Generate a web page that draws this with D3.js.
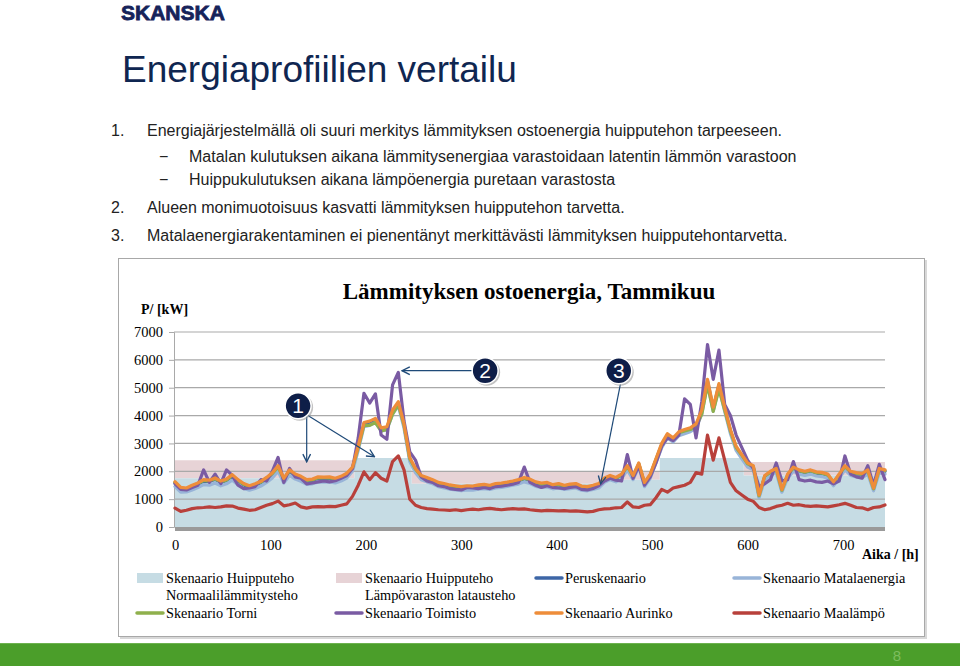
<!DOCTYPE html>
<html><head><meta charset="utf-8">
<script src="https://cdn.jsdelivr.net/npm/d3@7"></script>
<style>body{margin:0;background:#fff}svg{display:block}</style>
</head><body>
<svg id="c" width="960" height="666"></svg>
<script>
// ---------- data ----------
const hours = [0,6,12,18,24,30,36,42,48,54,60,66,72,78,84,90,96,102,108,114,120,126,132,138,144,150,156,162,168,174,
180,186,192,198,204,210,216,222,228,234,240,246,252,258,264,270,276,282,288,294,300,306,312,318,324,330,336,342,348,354,
360,366,372,378,384,390,396,402,408,414,420,426,432,438,444,450,456,462,468,474,480,486,492,498,504,510,516,522,528,534,
540,546,552,558,564,570,576,582,588,594,600,606,612,618,624,630,636,642,648,654,660,666,672,678,684,690,696,702,708,714,
720,726,732,738,744];

const peruskenaario = [1580,1370,1350,1450,1530,1650,1630,1710,1600,1670,
1830,1650,1510,1430,1500,1590,1730,1900,2140,1700,
2000,1850,1770,1650,1670,1750,1740,1750,1700,1770,
1880,2100,2850,3700,3720,3820,3500,3540,4120,4430,
3650,2450,2050,1800,1730,1650,1550,1510,1460,1430,
1400,1430,1420,1460,1480,1450,1510,1530,1560,1600,
1650,1730,1670,1570,1530,1550,1470,1510,1450,1490,
1510,1420,1400,1450,1510,1710,1800,1730,1850,2150,
1800,2250,1550,1850,2400,2950,3300,3150,3370,3450,
3500,3650,4150,5250,4250,5100,4250,3450,2850,2550,
2250,2150,1100,1800,1950,2050,1300,1850,2100,2000,
1950,2000,1930,1910,1850,1570,1850,2150,1950,1900,
1870,2000,1350,2050,2000];

const matalaenergia = [1450,1250,1260,1330,1420,1520,1500,1580,1480,1550,
1680,1520,1380,1320,1380,1470,1600,1760,2000,1580,
1850,1720,1640,1530,1550,1620,1610,1620,1580,1650,
1760,2000,2750,3600,3650,3750,3450,3480,4050,4350,
3550,2350,1950,1700,1620,1550,1450,1400,1360,1330,
1300,1330,1320,1360,1380,1350,1400,1420,1460,1500,
1540,1620,1560,1460,1420,1440,1370,1400,1350,1380,
1400,1320,1300,1350,1400,1600,1700,1620,1740,2050,
1700,2150,1450,1750,2300,2850,3200,3050,3280,3350,
3420,3550,4050,5150,4150,5000,4150,3350,2750,2450,
2150,2050,1050,1700,1850,1950,1250,1750,2000,1900,
1850,1900,1830,1810,1750,1480,1750,2050,1850,1800,
1770,1900,1300,1950,1900];

const torni = [1600,1390,1370,1470,1550,1670,1650,1730,1620,1690,
1850,1670,1530,1450,1520,1610,1750,1920,2150,1720,
2010,1870,1790,1670,1690,1770,1760,1770,1720,1790,
1900,2120,2850,3650,3650,3750,3450,3500,4050,4400,
3650,2450,2070,1820,1750,1670,1570,1530,1480,1450,
1420,1450,1440,1480,1500,1470,1530,1550,1580,1620,
1670,1750,1690,1590,1550,1570,1490,1530,1470,1510,
1530,1440,1420,1470,1530,1730,1820,1750,1870,2170,
1820,2270,1570,1870,2420,2950,3300,3150,3380,3450,
3500,3600,4050,5100,4150,4950,4200,3450,2850,2570,
2270,2170,1120,1820,1970,2070,1320,1870,2120,2020,
1970,2020,1950,1930,1870,1590,1870,2170,1970,1920,
1890,2020,1370,2070,2020];

const toimisto = [1550,1350,1330,1420,1500,2050,1600,1900,1560,2050,
1850,1500,1380,1400,1450,1700,1650,2000,2500,1600,
2100,1800,1750,1550,1580,1620,1650,1620,1660,1750,
1850,2100,3200,4800,4450,4780,3300,3150,5100,5550,
3800,2700,2400,1800,1650,1600,1480,1450,1380,1350,
1330,1420,1400,1380,1420,1380,1450,1470,1500,1540,
1600,2150,1600,1500,1420,1480,1420,1400,1380,1420,
1450,1350,1330,1380,1480,1650,1750,1680,1650,2600,
1750,2200,1500,1800,2300,2900,3200,3100,3300,4600,
4400,3200,4500,6550,5300,6350,4400,4000,3300,2850,
2400,2100,1450,1550,1700,2300,1650,1700,2350,1700,
1650,1680,1620,1600,1650,1550,1650,2550,1900,1800,
1750,2200,1500,2250,1700];

const aurinko = [1630,1420,1400,1500,1580,1700,1680,1760,1650,1720,
1880,1700,1560,1480,1550,1640,1780,1950,2200,1750,
2050,1900,1820,1700,1720,1800,1790,1800,1750,1820,
1930,2150,2900,3750,3800,3900,3560,3600,4200,4500,
3700,2500,2100,1850,1780,1700,1600,1560,1510,1480,
1450,1480,1470,1510,1530,1500,1560,1580,1610,1650,
1700,1780,1720,1620,1580,1600,1520,1560,1500,1540,
1560,1470,1450,1500,1560,1760,1850,1780,1900,2200,
1850,2300,1600,1900,2450,3000,3350,3200,3420,3500,
3560,3700,4200,5300,4300,5150,4300,3500,2900,2600,
2300,2200,1150,1850,2000,2100,1350,1900,2150,2050,
2000,2050,1980,1960,1900,1620,1900,2200,2000,1950,
1920,2050,1400,2100,2050];

const maalampo = [680,560,600,660,690,700,720,700,720,760,
750,680,640,600,620,700,780,840,930,760,
800,860,720,680,720,730,720,740,730,780,
830,1100,1500,1980,1700,1950,1750,1650,2350,2550,
2050,1000,780,700,660,640,620,610,600,620,
590,620,640,620,650,670,640,620,640,660,
640,650,620,600,580,600,590,580,590,570,
580,560,540,560,620,650,660,690,700,900,
720,700,780,800,1050,1350,1250,1400,1450,1500,
1600,1950,1900,3300,2400,3200,2400,1600,1300,1150,
1000,920,700,620,660,740,780,850,780,800,
760,740,760,740,720,760,800,850,780,700,
690,620,700,720,790];

// step areas (peak-power scenario)
const stepHours = [0,188,248,450,508,596,744];
const huippuNormaali = [1750,2480,1550,1700,2480,1850,1850];
const huippuLataus   = [2400,2480,1980,2000,2480,2330,2330];

const yTicks = [0,1000,2000,3000,4000,5000,6000,7000];
const xTicks = [0,100,200,300,400,500,600,700];

const bullets = [
  ["1.", "Energiajärjestelmällä oli suuri merkitys lämmityksen ostoenergia huipputehon tarpeeseen."],
  ["−", "Matalan kulutuksen aikana lämmitysenergiaa varastoidaan latentin lämmön varastoon"],
  ["−", "Huippukulutuksen aikana lämpöenergia puretaan varastosta"],
  ["2.", "Alueen monimuotoisuus kasvatti lämmityksen huipputehon tarvetta."],
  ["3.", "Matalaenergiarakentaminen ei pienentänyt merkittävästi lämmityksen huipputehontarvetta."]
];

const markers = [{n:"1",h:129,v:4350},{n:"2",h:325,v:5610},{n:"3",h:465,v:5610}];
const arrows = [
  {h1:138,v1:4030,h2:138,v2:2340},
  {h1:138,v1:4030,h2:209,v2:2520},
  {h1:312,v1:5610,h2:238,v2:5610},
  {h1:467,v1:5170,h2:446,v2:1550}
];

// ---------- drawing ----------
const svg = d3.select("#c");
const SERIF = "'Liberation Serif','Times New Roman',serif";
const SANS = "'Liberation Sans',Arial,sans-serif";

// logo
svg.append("text").attr("x",121).attr("y",19.5).text("SKANSKA")
  .attr("font-family",SANS).attr("font-weight",900).attr("font-size",21)
  .attr("fill","#16235a").attr("stroke","#16235a").attr("stroke-width",0.8);

// title
svg.append("text").attr("x",122).attr("y",82).text("Energiaprofiilien vertailu")
  .attr("font-family",SANS).attr("font-size",37).attr("fill","#0f2651");

// bullets
const bY = [136,162,185,213,241];
bullets.forEach((b,i)=>{
  const sub = b[0]==="−";
  svg.append("text").attr("x", sub?159:111).attr("y",bY[i]).text(b[0])
    .attr("font-family",SANS).attr("font-size",16).attr("fill","#222");
  svg.append("text").attr("x", sub?189:147).attr("y",bY[i]).text(b[1])
    .attr("font-family",SANS).attr("font-size",16).attr("fill","#222");
});

// chart frame
svg.append("rect").attr("x",120).attr("y",260).attr("width",807).attr("height",379).attr("fill","#d8d8d8");
svg.append("rect").attr("x",118.5).attr("y",258.5).attr("width",806).attr("height",378)
  .attr("fill","#fff").attr("stroke","#a8a8a8");

// bottom green bar
svg.append("rect").attr("x",0).attr("y",643).attr("width",960).attr("height",23).attr("fill","#4b9e2a");
svg.append("rect").attr("x",0).attr("y",643).attr("width",960).attr("height",1).attr("fill","#6db24f");
svg.append("text").attr("x",897).attr("y",661).attr("text-anchor","middle").text("8")
  .attr("font-family",SANS).attr("font-size",15).attr("fill","#7dbd5e");

// scales
const x = d3.scaleLinear().domain([0,744]).range([175,885]);
const y = d3.scaleLinear().domain([0,7000]).range([527,332]);

// chart title & axis titles
svg.append("text").attr("x",529).attr("y",299).attr("text-anchor","middle")
  .text("Lämmityksen ostoenergia, Tammikuu")
  .attr("font-family",SERIF).attr("font-weight","bold").attr("font-size",23).attr("fill","#000");
svg.append("text").attr("x",141).attr("y",314).text("P/ [kW]")
  .attr("font-family",SERIF).attr("font-weight","bold").attr("font-size",14).attr("fill","#000");
svg.append("text").attr("x",862).attr("y",559).text("Aika / [h]")
  .attr("font-family",SERIF).attr("font-weight","bold").attr("font-size",14).attr("fill","#000");

// areas
const stepData = stepHours.map((h,i)=>({h, a:huippuNormaali[i], b:huippuLataus[i]}));
svg.append("path").datum(stepData)
  .attr("d", d3.area().curve(d3.curveStepAfter).x(d=>x(d.h)).y0(d=>y(d.a)).y1(d=>y(d.b)))
  .attr("fill","#e7d3d6");
svg.append("path").datum(stepData)
  .attr("d", d3.area().curve(d3.curveStepAfter).x(d=>x(d.h)).y0(y(0)).y1(d=>y(d.a)))
  .attr("fill","#c6dce4");

// gridlines
svg.append("g").selectAll("line").data(yTicks.slice(1)).join("line")
  .attr("x1",x(0)-1).attr("x2",x(744)).attr("y1",d=>y(d)).attr("y2",d=>y(d))
  .attr("stroke","#a9a9a9").attr("stroke-width",1.2);

// y axis
const yAx = svg.append("g").attr("transform",`translate(${x(0)-1},0)`)
  .call(d3.axisLeft(y).tickValues(yTicks).tickFormat(d3.format("d")).tickSize(5).tickPadding(6));
yAx.select(".domain").attr("stroke","#a9a9a9");
yAx.selectAll(".tick line").attr("stroke","#a9a9a9");
yAx.selectAll("text").attr("font-family",SERIF).attr("font-size",14.5).attr("fill","#000");

// x axis
const xAx = svg.append("g").attr("transform",`translate(0,${y(0)})`)
  .call(d3.axisBottom(x).tickValues(xTicks).tickFormat(d3.format("d")).tickSize(0).tickPadding(13));
xAx.select(".domain").remove();
xAx.selectAll("text").attr("font-family",SERIF).attr("font-size",14.5).attr("fill","#000");

// base line
svg.append("line").attr("x1",x(0)).attr("x2",x(744)).attr("y1",y(0)+2).attr("y2",y(0)+2)
  .attr("stroke","#9a9a9a").attr("stroke-width",4);

// lines
const seriesList = [
  {name:"Peruskenaario", vals:peruskenaario, color:"#3d66a6"},
  {name:"Skenaario Matalaenergia", vals:matalaenergia, color:"#98b4d8"},
  {name:"Skenaario Torni", vals:torni, color:"#8fb04c"},
  {name:"Skenaario Toimisto", vals:toimisto, color:"#7a5ba3"},
  {name:"Skenaario Aurinko", vals:aurinko, color:"#ee8d3a"},
  {name:"Skenaario Maalämpö", vals:maalampo, color:"#b8403b"}
];
const line = d3.line().x(d=>x(d[0])).y(d=>y(d[1]));
seriesList.forEach(s=>{
  svg.append("path").datum(hours.map((h,i)=>[h,s.vals[i]]))
    .attr("d",line).attr("fill","none").attr("stroke",s.color)
    .attr("stroke-width",3.2).attr("stroke-linejoin","round").attr("stroke-linecap","round");
});

// arrows & markers
const defs = svg.append("defs");
defs.append("marker").attr("id","ah").attr("viewBox","0 0 10 10").attr("refX",9).attr("refY",5)
  .attr("markerWidth",8).attr("markerHeight",8).attr("orient","auto-start-reverse")
  .append("path").attr("d","M1,1 L9,5 L1,9").attr("fill","none").attr("stroke","#1f4a78").attr("stroke-width",1.4);
svg.append("g").selectAll("line").data(arrows).join("line")
  .attr("x1",d=>x(d.h1)).attr("y1",d=>y(d.v1)).attr("x2",d=>x(d.h2)).attr("y2",d=>y(d.v2))
  .attr("stroke","#1f4a78").attr("stroke-width",1.2).attr("marker-end","url(#ah)");
const mk = svg.append("g").selectAll("g").data(markers).join("g")
  .attr("transform",d=>`translate(${x(d.h)},${y(d.v)})`);
mk.append("circle").attr("r",13.5).attr("cx",1.5).attr("cy",1.5).attr("fill","#9a9a9a").attr("opacity",0.6);
mk.append("circle").attr("r",13).attr("fill","#0e1e48").attr("stroke","#fff").attr("stroke-width",1.5);
mk.append("text").text(d=>d.n).attr("text-anchor","middle").attr("y",7.5)
  .attr("font-family",SANS).attr("font-size",21).attr("fill","#fff");

// legend
const legendItems = [
  {lines:["Skenaario Huipputeho","Normaalilämmitysteho"], type:"area", color:"#c6dce4", col:0, row:0},
  {lines:["Skenaario Huipputeho","Lämpövaraston latausteho"], type:"area", color:"#e7d3d6", col:1, row:0},
  {lines:["Peruskenaario"], type:"line", color:"#3d66a6", col:2, row:0},
  {lines:["Skenaario Matalaenergia"], type:"line", color:"#98b4d8", col:3, row:0},
  {lines:["Skenaario Torni"], type:"line", color:"#8fb04c", col:0, row:1},
  {lines:["Skenaario Toimisto"], type:"line", color:"#7a5ba3", col:1, row:1},
  {lines:["Skenaario Aurinko"], type:"line", color:"#ee8d3a", col:2, row:1},
  {lines:["Skenaario Maalämpö"], type:"line", color:"#b8403b", col:3, row:1}
];
const colX = [137,336,536,734];
const rowY = [578,613];
const lg = svg.append("g").selectAll("g").data(legendItems).join("g")
  .attr("transform",d=>`translate(${colX[d.col]},${rowY[d.row]})`);
lg.filter(d=>d.type==="area").append("rect").attr("x",0).attr("y",-5).attr("width",26).attr("height",10)
  .attr("fill",d=>d.color);
lg.filter(d=>d.type==="line").append("line").attr("x1",0).attr("x2",26).attr("y1",0).attr("y2",0)
  .attr("stroke",d=>d.color).attr("stroke-width",3.5).attr("stroke-linecap","round");
lg.each(function(d){
  d.lines.forEach((t,i)=>{
    d3.select(this).append("text").attr("x",29).attr("y",5+i*17).text(t)
      .attr("font-family",SERIF).attr("font-size",14.3).attr("fill","#000");
  });
});
</script>
</body></html>
